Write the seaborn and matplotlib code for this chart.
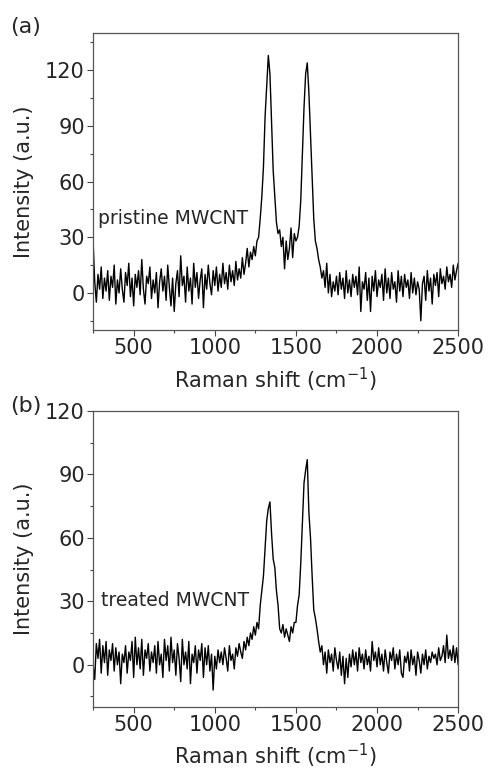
import numpy as np
import pandas as pd
import matplotlib
matplotlib.use("Agg")
import matplotlib.pyplot as plt
from matplotlib.ticker import MultipleLocator
import seaborn as sns

# Raman shift grid (cm-1), evenly sampled by the spectrometer
raman_shift = np.arange(250, 2501, 10)

# (a) pristine MWCNT
pristine = [
    28, 6, -5, 10, 2, 14, -3, 8, 1, 12,
    -4, 9, 3, 15, -6, 7, 0, 13, 2, -5,
    11, 4, 16, -2, 8, -7, 10, 3, 12, -1,
    18, 2, -6, 9, 5, 14, -3, 7, 0, 11,
    -8, 6, 13, 1, 9, -4, 15, 3, -7, 8,
    -10, 5, 12, -2, 20, 4, 9, -5, 14, 1,
    8, -6, 16, 3, 11, -3, 7, 13, -8, 10,
    2, 15, 5, -1, 12, 4,
    14, 1, 10, 3, 16, 5, 11, 2, 15, 6,
    12, 4, 17, 7, 13, 8, 19, 10, 16, 24,
    14, 22, 18, 25, 20, 28, 30, 40,
    52, 68, 95, 112, 128, 118, 92, 66, 52, 38, 32,
    34, 25, 30, 13, 28, 18, 24, 35, 19, 32, 28,
    30, 36, 50, 75, 100, 118, 124, 108, 85, 62, 40, 28, 24, 18, 14,
    8, 12, 3, 16, 0, 10, -2, 6, 1, 9,
    -1, 11, 2, 8, -3, 12, 0, 7, -2, 10,
    3, 9, -1, 14, -10, 6, 2, 11, -4, 8,
    -10, 9, 1, 12, -2, 7, 3, 10, -4, 13,
    0, 8, -3, 11, 2, 6, -5, 12, 1, 9,
    -2, 10, 3, 7, -3, 11, 0, 8, -1, 6,
    2, -15, 5, 9, -4, 12, 1, 8, -6, 10,
    4, 11, -2, 13, 5, 9, 2, 14, 6, 10,
    3, 15, 7, 12, 16,
]

# (b) treated MWCNT
treated = [
    0, -7, 10, 3, 12, -4, 9, 1, 11, -5,
    7, 2, 10, -3, 8, 0, 6, -9, 5, 1,
    9, -4, 6, 2, 11, -6, 13, 0, 8, -2,
    12, -5, 7, 3, 10, -3, 6, 1, 9, -4,
    11, 0, 5, -6, 12, 2, 9, -3, 13, 1,
    7, -5, 10, 3, -8, 12, 0, 6, -2, 11,
    -9, 5, 1, 9, -4, 7, 2, 10, -6, 8,
    0, 9, -3, 5, -12, 4,
    -2, 7, 1, 6, 0, 8, 3, -3, 9, 2,
    5, -2, 8, 4, 10, 6, 3, 11, 7, 13,
    9, 15, 12, 18, 14, 20, 17, 28,
    35, 42, 55, 68, 74, 77, 62, 50, 46, 35, 28,
    17, 15, 19, 13, 17, 14, 11, 18, 15, 20, 20,
    28, 33, 48, 67, 86, 92, 97, 72, 60, 42, 26, 22, 17, 11, 6,
    9, 0, 6, -4, 7, 1, 5, -3, 8, 2,
    -2, 6, -5, 4, -9, 3, -6, 5, -1, 7,
    0, 6, -3, 8, 1, 5, -2, 7, 0, 4,
    -3, 11, 2, 6, -1, 8, 0, 5, -3, 7,
    1, -4, 6, 2, 8, -2, 5, 0, 7, -4,
    -6, 4, 1, 6, -3, 7, 0, 4, -5, 6,
    2, -4, 5, 0, 7, -2, 4, 1, 6, 3,
    5, 0, 8, 2, 4, 9, 1, 14, 3, 7,
    2, 9, 1, 8, 0,
]

panel_tags = ["(a)", "(b)"]
sample_names = ["pristine MWCNT", "treated MWCNT"]
y_ticks = [[0, 30, 60, 90, 120], [0, 30, 60, 90, 120]]
y_limits = [(-20, 140), (-20, 120)]
x_ticks = [500, 1000, 1500, 2000, 2500]

sns.set_theme(style="ticks")
plt.rcParams["font.family"] = ["DejaVu Sans"]
plt.rcParams["font.size"] = 15

fig = plt.figure(figsize=(4.9, 7.72), dpi=100)
axes = [fig.add_axes([0.190, 0.5725, 0.745, 0.3845]),
        fig.add_axes([0.190, 0.0842, 0.745, 0.3834])]

spectra = [pristine, treated]
for i, ax in enumerate(axes):
    df = pd.DataFrame({"shift": raman_shift, "intensity": spectra[i]})
    sns.lineplot(data=df, x="shift", y="intensity", ax=ax, color="black",
                 lw=1.0, estimator=None)
    ax.set_xlim(250, 2500)
    ax.set_ylim(*y_limits[i])
    ax.set_xticks(x_ticks)
    ax.set_yticks(y_ticks[i])
    ax.xaxis.set_minor_locator(MultipleLocator(250))
    ax.yaxis.set_minor_locator(MultipleLocator(15))
    ax.tick_params(which="major", direction="out", length=4, width=0.8,
                   labelsize=15, pad=2, color="#444444")
    ax.tick_params(which="minor", direction="out", length=2.5, width=0.8,
                   color="#444444")
    for sp in ax.spines.values():
        sp.set_color("#555555")
        sp.set_linewidth(0.9)
    ax.set_xlabel("Raman shift (cm$^{-1}$)", fontsize=15, labelpad=5)
    ax.set_ylabel("Intensity (a.u.)", fontsize=15)
    ax.yaxis.set_label_coords(-0.163, 0.5)
    ax.text([280, 298][i], [40, 30.5][i], sample_names[i], fontsize=13.5,
            va="center", ha="left")
    fig.text(0.02, [0.965, 0.474][i], panel_tags[i], fontsize=16,
             va="center", ha="left")

fig.savefig("out.png", dpi=100)
